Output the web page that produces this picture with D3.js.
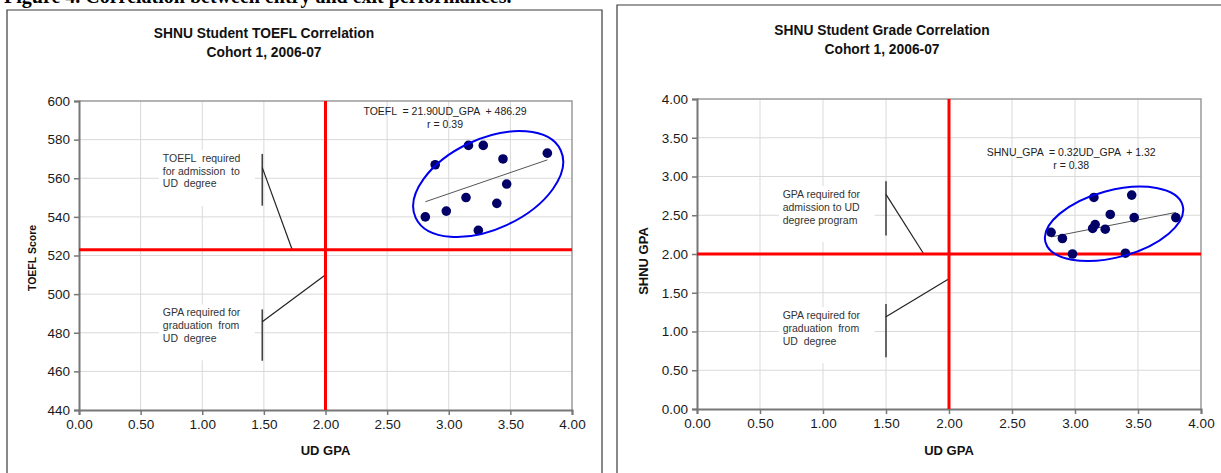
<!DOCTYPE html>
<html>
<head>
<meta charset="utf-8">
<script src="https://cdn.jsdelivr.net/npm/d3@7"></script>
<style>
  body { margin: 0; background: #fff; }
  svg { display: block; font-family: "Liberation Sans", Arial, sans-serif; }
</style>
</head>
<body>
<svg id="chart" width="1221" height="473"></svg>
<script>
// data
const udGpaTicks = [0, 0.5, 1, 1.5, 2, 2.5, 3, 3.5, 4];
const toeflTicks = [440, 460, 480, 500, 520, 540, 560, 580, 600];
const shnuTicks = [0, 0.5, 1, 1.5, 2, 2.5, 3, 3.5, 4];

const toeflUdGpa = [2.89, 3.16, 3.28, 3.44, 3.80, 3.47, 3.14, 3.39, 2.98, 2.81, 3.24];
const toeflScore = [567, 577, 577, 570, 573, 557, 550, 547, 543, 540, 533];

const gradeUdGpa = [2.81, 2.90, 2.98, 3.15, 3.14, 3.16, 3.28, 3.24, 3.45, 3.47, 3.40, 3.80];
const shnuGpa = [2.28, 2.20, 2.00, 2.73, 2.33, 2.38, 2.51, 2.32, 2.76, 2.47, 2.01, 2.47];

const toeflFit = { slope: 21.90, intercept: 486.29, r: 0.39 };
const gradeFit = { slope: 0.32, intercept: 1.32, r: 0.38 };

const toeflCutoff = 523;
const gpaCutoff = 2.0;

const svg = d3.select('#chart');

// heading of the page, cut by the top edge as in the scan
svg.append('text')
  .attr('x', 4).attr('y', 3)
  .style('font-family', '"Liberation Serif", "Times New Roman", serif')
  .style('font-weight', 'bold')
  .style('font-size', '20px')
  .attr('fill', '#000')
  .text('Figure 4. Correlation between entry and exit performances.');

function drawChart(cfg) {
  const g = svg.append('g');

  // outer frame
  g.append('path')
    .attr('d', `M${cfg.frame[0]},473 V${cfg.frame[1]} H${cfg.frame[2]} V473`)
    .attr('fill', 'none').attr('stroke', '#3a3a3a').attr('stroke-width', 1.2);

  g.append('text')
    .attr('x', cfg.titleX).attr('y', cfg.titleY)
    .attr('text-anchor', 'middle')
    .style('font-weight', 'bold').style('font-size', '13.8px').attr('fill', '#111')
    .selectAll('tspan').data(cfg.title).join('tspan')
    .attr('x', cfg.titleX).attr('dy', (d, i) => i ? 19 : 0)
    .text(d => d);

  const x = d3.scaleLinear().domain([0, 4]).range(cfg.xRange);
  const y = d3.scaleLinear().domain(cfg.yDomain).range(cfg.yRange);

  // gridlines
  g.append('g').selectAll('line').data(udGpaTicks.slice(1, -1)).join('line')
    .attr('x1', d => x(d)).attr('x2', d => x(d))
    .attr('y1', cfg.yRange[0]).attr('y2', cfg.yRange[1])
    .attr('stroke', '#d9d9d9').attr('stroke-width', 1);
  g.append('g').selectAll('line').data(cfg.yTicks.slice(1, -1)).join('line')
    .attr('y1', d => y(d)).attr('y2', d => y(d))
    .attr('x1', cfg.xRange[0]).attr('x2', cfg.xRange[1])
    .attr('stroke', '#d9d9d9').attr('stroke-width', 1);

  // plot area border on top and right
  g.append('path')
    .attr('d', `M${cfg.xRange[0]},${cfg.yRange[1]} H${cfg.xRange[1]} V${cfg.yRange[0]}`)
    .attr('fill', 'none').attr('stroke', '#9a9a9a').attr('stroke-width', 1.5);

  // annotation boxes (white, hide the grid)
  cfg.notes.forEach(n => {
    g.append('rect')
      .attr('x', x(n.tx) - 4).attr('y', y(n.ty) - 12)
      .attr('width', n.w).attr('height', n.h)
      .attr('fill', '#fff');
    g.append('text')
      .attr('x', x(n.tx)).attr('y', y(n.ty))
      .style('font-size', '10.5px').attr('fill', '#333')
      .selectAll('tspan').data(n.lines).join('tspan')
      .attr('x', x(n.tx)).attr('dy', (d, i) => i ? 12.8 : 0)
      .attr('xml:space', 'preserve')
      .text(d => d);
    g.append('line')
      .attr('x1', x(n.bx)).attr('x2', x(n.bx))
      .attr('y1', y(n.b0)).attr('y2', y(n.b1))
      .attr('stroke', '#444').attr('stroke-width', 1.6);
    g.append('line')
      .attr('x1', x(n.bx)).attr('y1', y(n.l0))
      .attr('x2', x(n.lx)).attr('y2', y(n.ly))
      .attr('stroke', '#222').attr('stroke-width', 1.2);
  });

  // axes
  const xAxis = g.append('g')
    .attr('transform', `translate(0,${cfg.yRange[0]})`)
    .call(d3.axisBottom(x).tickValues(udGpaTicks).tickFormat(d3.format('.2f')).tickSize(5).tickPadding(4));
  const yAxis = g.append('g')
    .attr('transform', `translate(${cfg.xRange[0]},0)`)
    .call(d3.axisLeft(y).tickValues(cfg.yTicks).tickFormat(cfg.yFormat).tickSize(5).tickPadding(4));
  [xAxis, yAxis].forEach(a => {
    a.select('.domain').attr('stroke', '#777').attr('stroke-width', 2);
    a.selectAll('.tick line').attr('stroke', '#777').attr('stroke-width', 1.5);
    a.selectAll('.tick text')
      .style('font-size', '13.5px').style('font-family', '"Liberation Sans", Arial, sans-serif')
      .attr('fill', '#1a1a1a');
  });

  // cutoff lines
  g.append('line')
    .attr('x1', x(gpaCutoff)).attr('x2', x(gpaCutoff))
    .attr('y1', cfg.yRange[0]).attr('y2', cfg.yRange[1])
    .attr('stroke', '#ff0000').attr('stroke-width', 3);
  g.append('line')
    .attr('x1', cfg.xRange[0]).attr('x2', cfg.xRange[1])
    .attr('y1', y(cfg.cutoff)).attr('y2', y(cfg.cutoff))
    .attr('stroke', '#ff0000').attr('stroke-width', 3);

  // axis titles
  g.append('text')
    .attr('x', x(2)).attr('y', 455)
    .attr('text-anchor', 'middle')
    .style('font-weight', 'bold').style('font-size', '13px').attr('fill', '#111')
    .text('UD GPA');
  g.append('text')
    .attr('transform', `translate(${cfg.yTitleX},${cfg.yTitleY}) rotate(-90)`)
    .attr('text-anchor', 'middle')
    .style('font-weight', 'bold').style('font-size', cfg.yTitleSize).attr('fill', '#111')
    .text(cfg.yTitle);

  // regression line
  const xs = d3.extent(cfg.xs);
  const fit = cfg.fit;
  g.append('line')
    .attr('x1', x(xs[0])).attr('y1', y(fit.slope * xs[0] + fit.intercept))
    .attr('x2', x(xs[1])).attr('y2', y(fit.slope * xs[1] + fit.intercept))
    .attr('stroke', '#555').attr('stroke-width', 1);

  // points
  g.append('g').selectAll('circle').data(cfg.xs).join('circle')
    .attr('cx', d => x(d))
    .attr('cy', (d, i) => y(cfg.ys[i]))
    .attr('r', 4.8)
    .attr('fill', '#000066');

  // ring round the cluster
  const e = cfg.ellipse;
  g.append('ellipse')
    .attr('transform', `translate(${x(e.cx)},${y(e.cy)}) rotate(${e.angle})`)
    .attr('rx', e.rx).attr('ry', e.ry)
    .attr('fill', 'none').attr('stroke', '#0000ee').attr('stroke-width', 2);

  // equation
  g.append('text')
    .attr('x', x(cfg.eqX)).attr('y', y(cfg.eqY))
    .attr('text-anchor', 'middle')
    .style('font-size', '10.5px').attr('fill', '#222')
    .attr('xml:space', 'preserve')
    .selectAll('tspan').data([
      `${cfg.yName}  = ${fit.slope.toFixed(2)}UD_GPA  + ${fit.intercept.toFixed(2)}`,
      `r = ${fit.r.toFixed(2)}`
    ]).join('tspan')
    .attr('x', x(cfg.eqX)).attr('dy', (d, i) => i ? 13 : 0)
    .text(d => d);
}

drawChart({
  frame: [7, 10, 602],
  title: ['SHNU Student TOEFL Correlation', 'Cohort 1, 2006-07'],
  titleX: 264, titleY: 38,
  xRange: [79, 572], yRange: [410, 101],
  yDomain: [440, 600], yTicks: toeflTicks, yFormat: d3.format('d'),
  cutoff: toeflCutoff,
  yTitle: 'TOEFL Score', yTitleX: 36, yTitleY: 258, yTitleSize: '10.5px',
  xs: toeflUdGpa, ys: toeflScore, fit: toeflFit, yName: 'TOEFL',
  eqX: 2.97, eqY: 592.5,
  ellipse: { cx: 3.32, cy: 557, rx: 80, ry: 45, angle: -25 },
  notes: [
    { lines: ['TOEFL  required', 'for admission  to', 'UD  degree'], tx: 0.68, ty: 568.5, w: 96, h: 56,
      bx: 1.487, b0: 572.6, b1: 545.8, l0: 565.5, lx: 1.73, ly: 523 },
    { lines: ['GPA required for', 'graduation  from', 'UD  degree'], tx: 0.68, ty: 488.5, w: 96, h: 56,
      bx: 1.487, b0: 492.1, b1: 465.5, l0: 485.7, lx: 1.99, ly: 509.5 }
  ]
});

drawChart({
  frame: [617, 5, 1240],
  title: ['SHNU Student Grade Correlation', 'Cohort 1, 2006-07'],
  titleX: 882, titleY: 35,
  xRange: [697, 1201], yRange: [409, 99],
  yDomain: [0, 4], yTicks: shnuTicks, yFormat: d3.format('.2f'),
  cutoff: gpaCutoff,
  yTitle: 'SHNU GPA', yTitleX: 648, yTitleY: 261, yTitleSize: '13px',
  xs: gradeUdGpa, ys: shnuGpa, fit: gradeFit, yName: 'SHNU_GPA',
  eqX: 2.97, eqY: 3.26,
  ellipse: { cx: 3.31, cy: 2.39, rx: 71, ry: 33.5, angle: -15 },
  notes: [
    { lines: ['GPA required for', 'admission to UD', 'degree program'], tx: 0.68, ty: 2.72, w: 96, h: 56,
      bx: 1.5, b0: 2.94, b1: 2.24, l0: 2.77, lx: 1.80, ly: 2.0 },
    { lines: ['GPA required for', 'graduation  from', 'UD  degree'], tx: 0.68, ty: 1.16, w: 96, h: 56,
      bx: 1.5, b0: 1.355, b1: 0.667, l0: 1.19, lx: 2.0, ly: 1.68 }
  ]
});
</script>
</body>
</html>
